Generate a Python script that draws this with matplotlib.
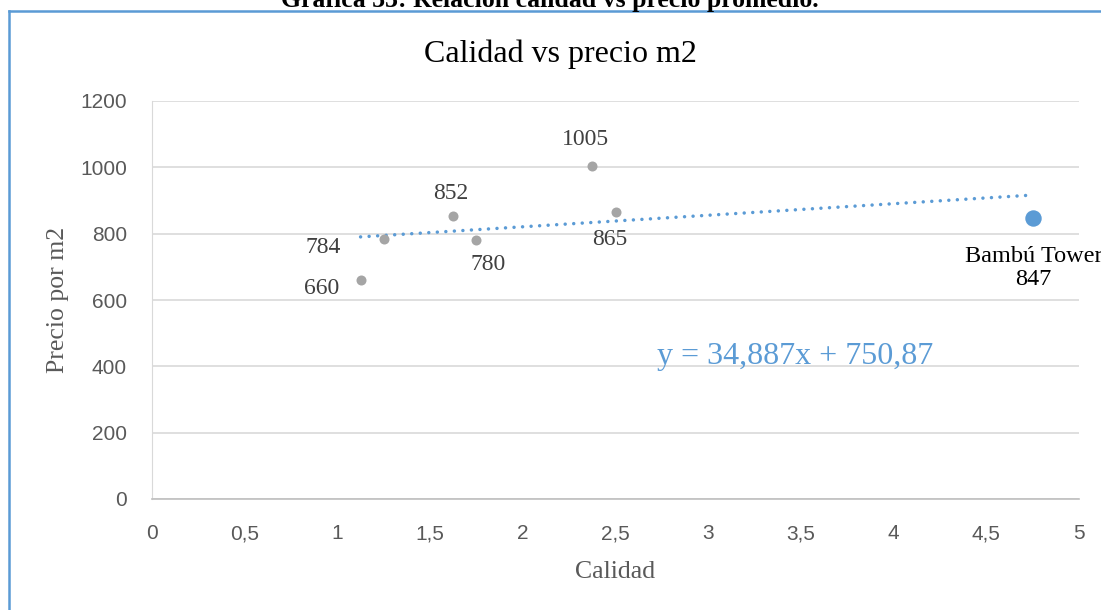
import numpy as np
import matplotlib
matplotlib.use("Agg")
import matplotlib.pyplot as plt
from matplotlib.lines import Line2D

# data
calidad = [1.125, 1.25, 1.625, 1.75, 2.375, 2.5]
precio = [660, 784, 852, 780, 1005, 865]
etiquetas = ["660", "784", "852", "780", "1005", "865"]

bambu_calidad = [4.75]
bambu_precio = [847]
bambu_etiqueta = "Bambú Tower\n847"

x_ticks = [0, 0.5, 1, 1.5, 2, 2.5, 3, 3.5, 4, 4.5, 5]
x_ticklabels = ["0", "0,5", "1", "1,5", "2", "2,5", "3", "3,5", "4", "4,5", "5"]
y_ticks = [0, 200, 400, 600, 800, 1000, 1200]

ecuacion = "y = 34,887x + 750,87"

SERIF = ["Liberation Serif", "DejaVu Serif"]
SANS = ["Liberation Sans", "DejaVu Sans"]
AZUL = "#5B9BD5"
GRIS_PUNTO = "#A5A5A5"
GRIS_TEXTO = "#595959"

fig = plt.figure(figsize=(11.01, 6.10), dpi=100)
ax = fig.add_axes([152 / 1101, 1 - 499 / 610, (1079 - 152) / 1101, (499 - 101) / 610])

# points
ax.scatter(calidad, precio, s=52, color=GRIS_PUNTO, zorder=3, linewidths=0)
ax.scatter(bambu_calidad, bambu_precio, s=140, color=AZUL, zorder=3, linewidths=0)

# linear trend over every point
todos_x = np.array(calidad + bambu_calidad)
todos_y = np.array(precio + bambu_precio)
m, b = np.polyfit(todos_x, todos_y, 1)
xs = np.array([todos_x.min(), todos_x.max()])
ax.plot(xs, m * xs + b, color=AZUL, lw=2.5, linestyle=(0, (0.01, 2.45)),
        dash_capstyle="round", zorder=2)

# data labels (offsets in pixels from each point)
offsets = [(-39, -8), (-61, -9), (-3, 23), (12, -24), (-7, 26), (-6, -27)]
for xi, yi, lab, off in zip(calidad, precio, etiquetas, offsets):
    ax.annotate(lab, (xi, yi), xytext=off, textcoords="offset pixels",
                ha="center", va="center", fontsize=17, family=SERIF,
                color="#404040")
ax.annotate(bambu_etiqueta, (bambu_calidad[0], bambu_precio[0]), xytext=(1, -50),
            textcoords="offset pixels", ha="center", va="center", fontsize=17.5,
            family=SERIF, color="black", linespacing=1.15, annotation_clip=False)

ax.text(3.47, 431, ecuacion, ha="center", va="center", fontsize=23,
        family=SERIF, color=AZUL)

ax.set_xlim(0, 5)
ax.set_ylim(0, 1200)
ax.set_xticks(x_ticks)
ax.set_xticklabels(x_ticklabels)
ax.set_yticks(y_ticks)
ax.tick_params(length=0, labelsize=15, labelcolor=GRIS_TEXTO)
ax.tick_params(axis="x", pad=18)
ax.tick_params(axis="y", pad=18)
for lab in ax.get_xticklabels() + ax.get_yticklabels():
    lab.set_family(SANS)

ax.grid(axis="y", color="#D9D9D9", lw=1.2)
ax.set_axisbelow(True)
for side in ["top", "right"]:
    ax.spines[side].set_visible(False)
ax.spines["left"].set_color("#D9D9D9")
ax.spines["bottom"].set_color("#BFBFBF")
ax.spines["bottom"].set_linewidth(1.2)

ax.set_xlabel("Calidad", fontsize=18.5, family=SERIF, color=GRIS_TEXTO, labelpad=13)
ax.set_ylabel("Precio por m2", fontsize=18.5, family=SERIF, color=GRIS_TEXTO, labelpad=8)

fig.text(560 / 1101, 1 - 54 / 610, "Calidad vs precio m2", ha="center", va="center",
         fontsize=23, family=SERIF, color="black")

# caption cut off at the top of the picture
fig.text(550 / 1101, 1 - 7 / 610, "Gráfica 33: Relación calidad vs precio promedio.",
         ha="center", va="baseline", fontsize=18.5, family=SERIF, weight="bold",
         color="black")

# blue frame of the chart area
fig.add_artist(Line2D([9 / 1101, 1], [1 - 11 / 610, 1 - 11 / 610], color=AZUL, lw=1.8))
fig.add_artist(Line2D([9 / 1101, 9 / 1101], [0, 1 - 11 / 610], color=AZUL, lw=1.8))

fig.savefig("out.png", dpi=100)
